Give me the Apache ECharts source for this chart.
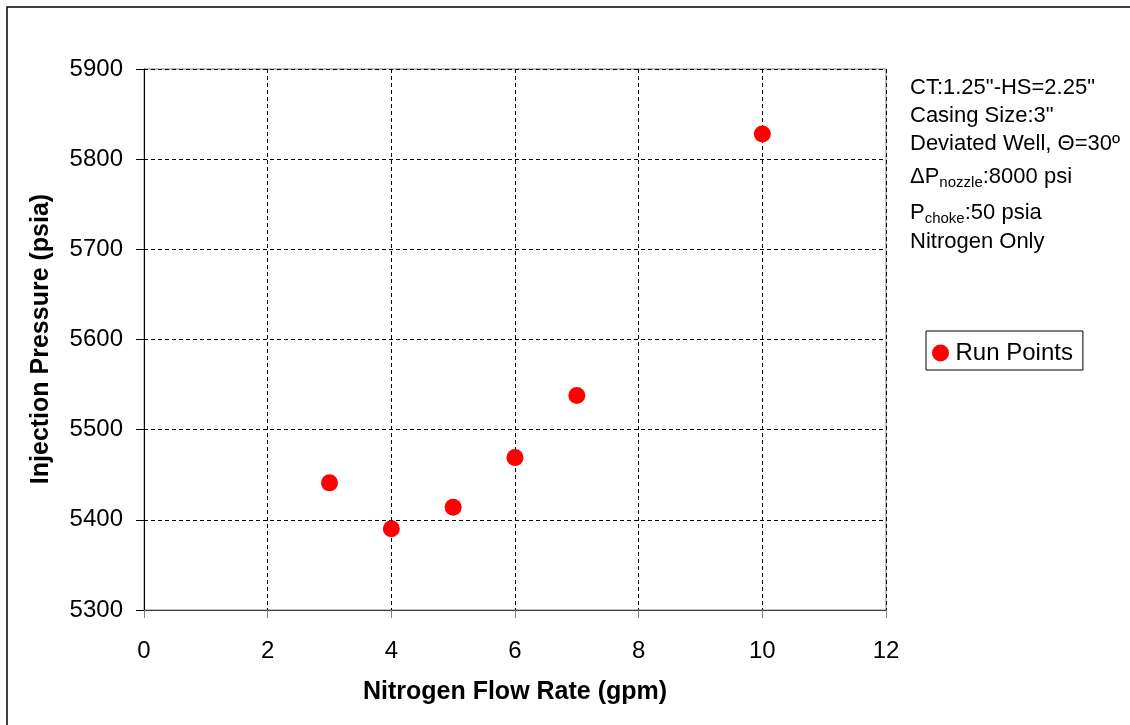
<!DOCTYPE html>
<html>
<head>
<meta charset="utf-8">
<script src="https://cdn.jsdelivr.net/npm/echarts@6/dist/echarts.min.js"></script>
<style>
  html, body { margin: 0; padding: 0; background: #fff; }
  #chart { width: 1130px; height: 725px; }
</style>
</head>
<body>
<div id="chart"></div>
<script>
// data
var flowRate = [3, 4, 5, 6, 7, 10];               // gpm
var pressure = [5441, 5390, 5414, 5469, 5538, 5828]; // psia
var xTicks = [0, 2, 4, 6, 8, 10, 12];
var yTicks = [5300, 5400, 5500, 5600, 5700, 5800, 5900];

var FONT = '"Liberation Sans", Arial, sans-serif';

var myChart = echarts.init(document.getElementById('chart'));

var points = flowRate.map(function (x, i) { return [x, pressure[i]]; });

// annotation lines on the right (subscripts done with rich text)
var subStyle = { fontSize: 15, fontFamily: FONT, lineHeight: 15, padding: [10, 0, 0, 0], verticalAlign: 'top', fill: '#000' };
var mainStyle = { fontSize: 22, fontFamily: FONT, lineHeight: 23, verticalAlign: 'top', fill: '#000' };

function note(y, text, rich) {
    var st = { text: text, fontSize: 22, fontFamily: FONT, fill: '#000', verticalAlign: 'middle', align: 'left' };
    if (rich) st.rich = { m: mainStyle, s: subStyle };
    return { type: 'text', x: 910, y: y, style: st, z: 10 };
}

var option = {
    backgroundColor: '#fff',
    animation: false,
    grid: {
        left: 144, right: 244, top: 69, bottom: 115,
        show: true, borderColor: '#808080', borderWidth: 1, backgroundColor: '#fff'
    },
    legend: {
        left: 926, top: 331,
        orient: 'vertical',
        icon: 'circle',
        itemWidth: 20, itemHeight: 17,
        padding: [10, 10, 5, 6],
        borderColor: '#000', borderWidth: 1, borderRadius: 0,
        textStyle: { fontSize: 24, fontFamily: FONT, color: '#000' },
        data: ['Run Points']
    },
    xAxis: {
        type: 'value', min: 0, max: 12, interval: 2,
        axisLine: { show: true, onZero: false, lineStyle: { color: '#404040', width: 1 } },
        axisTick: { show: true, inside: false, length: 8, lineStyle: { color: '#808080' } },
        axisLabel: { margin: 29, fontSize: 24, fontFamily: FONT, color: '#000',
            formatter: function (v) { return xTicks.indexOf(v) >= 0 ? String(v) : ''; } },
        splitLine: { show: true, lineStyle: { color: '#000', type: [4, 3], width: 1 } }
    },
    yAxis: {
        type: 'value', min: 5300, max: 5900, interval: 100,
        axisLine: { show: true, onZero: false, lineStyle: { color: '#000', width: 1 } },
        axisTick: { show: true, inside: false, length: 8, lineStyle: { color: '#000' } },
        axisLabel: { margin: 21, fontSize: 24, fontFamily: FONT, color: '#000',
            formatter: function (v) { return yTicks.indexOf(v) >= 0 ? String(v) : ''; } },
        splitLine: { show: true, lineStyle: { color: '#000', type: [4, 3], width: 1 } }
    },
    series: [{
        name: 'Run Points',
        type: 'scatter',
        symbol: 'circle',
        symbolSize: 17,
        itemStyle: { color: '#ff0000', opacity: 1 },
        data: points
    }],
    graphic: [
        // outer chart border (only left/top edges show in the picture)
        { type: 'rect', shape: { x: 7, y: 7, width: 1300, height: 900 },
          style: { fill: null, stroke: '#000', lineWidth: 1.5 }, z: 0, silent: true },
        { type: 'text', x: 515, y: 692,
          style: { text: 'Nitrogen Flow Rate (gpm)', fontSize: 25, fontWeight: 'bold', fontFamily: FONT,
                   fill: '#000', align: 'center', verticalAlign: 'middle' } },
        { type: 'text', x: 41, y: 339, rotation: Math.PI / 2,
          style: { text: 'Injection Pressure (psia)', fontSize: 25, fontWeight: 'bold', fontFamily: FONT,
                   fill: '#000', align: 'center', verticalAlign: 'middle' } },
        note(88, 'CT:1.25"-HS=2.25"'),
        note(116, 'Casing Size:3"'),
        note(144, 'Deviated Well, \u0398=30\u00ba'),
        note(177, '{m|\u0394P}{s|nozzle}{m|:8000 psi}', true),
        note(213, '{m|P}{s|choke}{m|:50 psia}', true),
        note(242, 'Nitrogen Only')
    ]
};

myChart.setOption(option);
</script>
</body>
</html>
